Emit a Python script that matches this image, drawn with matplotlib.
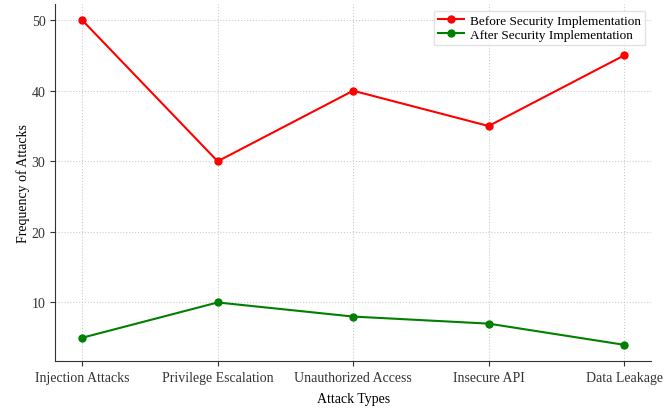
import matplotlib.pyplot as plt

attack_types = ["Injection Attacks", "Privilege Escalation", "Unauthorized Access", "Insecure API", "Data Leakage"]
before_security = [50, 30, 40, 35, 45]
after_security = [5, 10, 8, 7, 4]

plt.rcParams['font.family'] = ['Liberation Serif', 'DejaVu Serif']

fig = plt.figure(figsize=(6.72, 4.1), dpi=100)
ax = fig.add_axes([0.082, 0.117, 0.887, 0.871])

ax.plot(attack_types, before_security, color='red', marker='o', markersize=5, linewidth=1.5,
        label='Before Security Implementation')
ax.plot(attack_types, after_security, color='green', marker='o', markersize=5, linewidth=1.5,
        label='After Security Implementation')

ax.set_xlabel('Attack Types', fontsize=10, labelpad=6)
ax.set_ylabel('Frequency of Attacks', fontsize=10, labelpad=1)
ax.tick_params(labelsize=10, colors='#333333')
ax.set_yticks([10, 20, 30, 40, 50])
ax.grid(True, linestyle=':', color='#cccccc', linewidth=0.8)

for side in ['top', 'right']:
    ax.spines[side].set_visible(False)
for side in ['left', 'bottom']:
    ax.spines[side].set_color('#333333')

ax.legend(loc='upper right', fontsize=9.5, borderpad=0.3, labelspacing=0.15, handlelength=2.0,
          handletextpad=0.4, fancybox=False, edgecolor='#dddddd')

fig.savefig('out.png', dpi=100)
